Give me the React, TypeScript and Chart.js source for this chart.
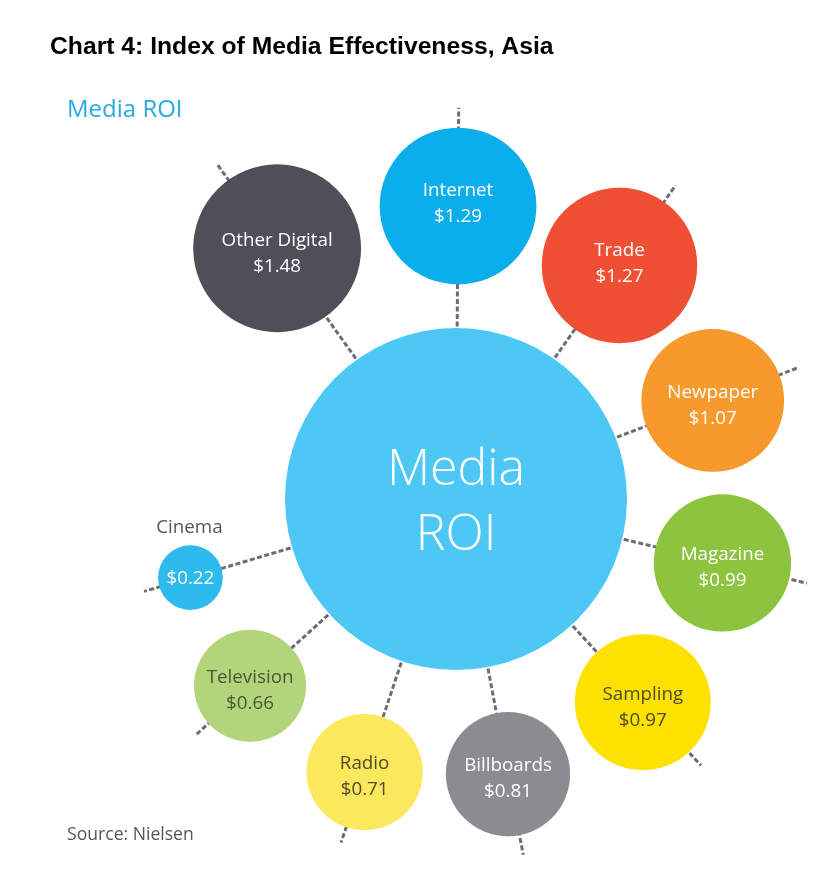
import React, { useEffect, useRef } from "react";
import { Chart, registerables } from "chart.js";

Chart.register(...registerables);

// ---- data ----
const categories = [
  "Other Digital",
  "Internet",
  "Trade",
  "Newpaper",
  "Magazine",
  "Sampling",
  "Billboards",
  "Radio",
  "Television",
  "Cinema",
];
const roiValues = [1.48, 1.29, 1.27, 1.07, 0.99, 0.97, 0.81, 0.71, 0.66, 0.22];
const titleText = "Chart 4: Index of Media Effectiveness, Asia";
const subtitleText = "Media ROI";
const hubLines = ["Media", "ROI"];
const sourceText = "Source: Nielsen";

// ---- layout / style ----
const W = 827;
const H = 893;
const HUB = { x: 456, y: 499, r: 171 };
const spokeAngles = [324.5, 0.4, 35, 69, 103.5, 137.4, 169.3, 198.5, 227.8, 253.5];
const spokeDistances = [308, 293, 285, 275, 274, 276, 280, 288, 278, 277];
const spokeTails = [20, 20, 20, 20, 18, 18, 20, 16, 18, 16];
const labelShift = [0, -7, -7, 0, 0, 0, 0, 0, 0, 0];
const bubbleScale = 69; // area ~ value
const bubbleColors = [
  "#4d5058",
  "#0aaeeb",
  "#ef5033",
  "#f69a2d",
  "#8dc33f",
  "#fde101",
  "#8b8c91",
  "#fce85c",
  "#b2d57b",
  "#2dbbee",
];
const textColors = [
  "#ffffff",
  "#ffffff",
  "#ffffff",
  "#ffffff",
  "#ffffff",
  "#4f4a2a",
  "#ffffff",
  "#4f4a2a",
  "#4b5638",
  "#ffffff",
];
const hubColor = "#4dc8f4";
const FONT = "'Open Sans', 'Noto Sans', sans-serif";

function radiusOf(v: number) {
  return bubbleScale * Math.sqrt(v);
}
function pointAt(angleDeg: number, dist: number) {
  const a = (angleDeg * Math.PI) / 180;
  return { x: HUB.x + dist * Math.sin(a), y: HUB.y - dist * Math.cos(a) };
}

export default function App() {
  const canvasRef = useRef<HTMLCanvasElement | null>(null);

  useEffect(() => {
    if (!canvasRef.current) return;

    const satellites = categories.map((c, i) => {
      const p = pointAt(spokeAngles[i], spokeDistances[i]);
      return { x: p.x, y: p.y, r: radiusOf(roiValues[i]) };
    });

    const spokeDatasets = categories.map((c, i) => {
      const outer = pointAt(spokeAngles[i], spokeDistances[i] + radiusOf(roiValues[i]) + spokeTails[i]);
      return {
        type: "line" as const,
        label: "spoke " + c,
        data: [
          { x: HUB.x, y: HUB.y },
          { x: outer.x, y: outer.y },
        ],
        borderColor: "#6a6c76",
        borderWidth: 3,
        borderDash: [5, 2.5],
        pointRadius: 0,
        fill: false,
        clip: false,
        order: 5,
      };
    });

    const textPlugin = {
      id: "textPlugin",
      afterDatasetsDraw(chart: any) {
        const ctx = chart.ctx as CanvasRenderingContext2D;
        ctx.save();
        // hub text
        const hubMeta = chart.getDatasetMeta(0);
        const hp = hubMeta.data[0];
        ctx.fillStyle = "#ffffff";
        ctx.textAlign = "center";
        ctx.textBaseline = "alphabetic";
        ctx.font = `300 50px ${FONT}`;
        ctx.fillText(hubLines[0], hp.x, hp.y - 14);
        ctx.fillText(hubLines[1], hp.x, hp.y + 51);

        // satellite labels
        const meta = chart.getDatasetMeta(1);
        meta.data.forEach((el: any, i: number) => {
          ctx.fillStyle = textColors[i];
          ctx.textAlign = "center";
          ctx.textBaseline = "middle";
          ctx.font = `18.8px ${FONT}`;
          const val = "$" + roiValues[i].toFixed(2);
          if (categories[i] === "Cinema") {
            ctx.fillText(val, el.x, el.y + 1);
            ctx.fillStyle = "#555555";
            ctx.fillText(categories[i], el.x - 1, el.y - 50);
          } else {
            ctx.fillText(categories[i], el.x, el.y - 8 + labelShift[i]);
            ctx.fillText(val, el.x, el.y + 18 + labelShift[i]);
          }
        });

        // title, subtitle, source
        ctx.textAlign = "left";
        ctx.textBaseline = "alphabetic";
        ctx.fillStyle = "#000000";
        ctx.font = `bold 24.7px 'Liberation Sans', Arial, sans-serif`;
        ctx.fillText(titleText, 50, 54);
        ctx.fillStyle = "#27a9e1";
        ctx.font = `24px ${FONT}`;
        ctx.fillText(subtitleText, 67, 117);
        ctx.fillStyle = "#545558";
        ctx.font = `17.6px ${FONT}`;
        ctx.fillText(sourceText, 67, 840);
        ctx.restore();
      },
    };

    const chart = new Chart(canvasRef.current, {
      type: "bubble",
      data: {
        datasets: [
          {
            label: "Media ROI",
            data: [{ x: HUB.x, y: HUB.y, r: HUB.r }],
            backgroundColor: hubColor,
            borderWidth: 0,
            clip: false,
            order: 1,
          } as any,
          {
            label: "Media",
            data: satellites,
            backgroundColor: bubbleColors,
            borderWidth: 0,
            clip: false,
            order: 0,
          } as any,
          ...(spokeDatasets as any[]),
        ],
      },
      options: {
        responsive: false,
        animation: false,
        devicePixelRatio: 1,
        layout: { padding: 0, autoPadding: false },
        plugins: {
          legend: { display: false },
          tooltip: { enabled: false },
          title: { display: false },
        },
        scales: {
          x: { type: "linear", min: 0, max: W, display: false },
          y: { type: "linear", min: 0, max: H, reverse: true, display: false },
        },
        events: [],
      },
      plugins: [textPlugin],
    });

    return () => chart.destroy();
  }, []);

  return (
    <div style={{ position: "absolute", left: 0, top: 0, width: W, height: H, background: "#ffffff" }}>
      <canvas ref={canvasRef} width={W} height={H} />
    </div>
  );
}
